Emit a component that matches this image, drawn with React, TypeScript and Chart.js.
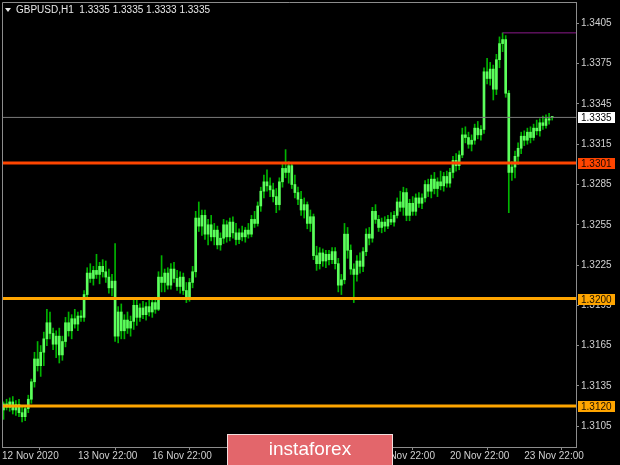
import React, { useEffect, useRef } from 'react';
import { Chart, registerables } from 'chart.js';

Chart.register(...registerables);

// ---- Data (GBPUSD H1) ----
const opens = [
  1.3117, 1.31215, 1.3119, 1.3123, 1.3117, 1.3121, 1.3115, 1.3112, 1.3118, 1.3125,
  1.3138, 1.3155, 1.3150, 1.3160, 1.3170, 1.3182, 1.3174, 1.3166, 1.3172, 1.3158,
  1.3168, 1.3182, 1.3176, 1.3185, 1.3181, 1.3187, 1.3186, 1.3203, 1.3219, 1.3215,
  1.3221, 1.3218, 1.3224, 1.3220, 1.3216, 1.3208, 1.3213, 1.3172, 1.3190, 1.3176,
  1.3184, 1.3178, 1.3183, 1.3195, 1.3186, 1.3193, 1.3188, 1.3194, 1.3190, 1.3197,
  1.3192, 1.3216, 1.3212, 1.3219, 1.3210, 1.3222, 1.3215, 1.3209, 1.3216, 1.3206,
  1.3201, 1.3212, 1.3220, 1.3260, 1.3254, 1.3262, 1.3248, 1.3255, 1.3246, 1.3251,
  1.3240, 1.3245, 1.3255, 1.3246, 1.3257, 1.3249, 1.3244, 1.3249, 1.3246, 1.3251,
  1.3248, 1.3259, 1.3256, 1.3269, 1.3280, 1.3287, 1.3284, 1.3281, 1.3276, 1.3270,
  1.3287, 1.3297, 1.3294, 1.3299, 1.3285, 1.3279, 1.3274, 1.3266, 1.3270, 1.3256,
  1.3261, 1.3232, 1.3226, 1.3234, 1.3228, 1.3233, 1.3229, 1.3235, 1.3226, 1.3210,
  1.3214, 1.3248, 1.3236, 1.3222, 1.3218, 1.3228, 1.3224, 1.3235, 1.3248, 1.3245,
  1.3265, 1.3259, 1.3253, 1.3257, 1.3254, 1.3259, 1.3257, 1.3262, 1.3272, 1.3268,
  1.3279, 1.3262, 1.3271, 1.3265, 1.3275, 1.3271, 1.3275, 1.3285, 1.3280, 1.3289,
  1.3282, 1.3287, 1.3284, 1.3291, 1.3286, 1.3294, 1.3303, 1.3299, 1.3307, 1.3322,
  1.3320, 1.3315, 1.3318, 1.3327, 1.3322, 1.3326, 1.3369, 1.3364, 1.3371, 1.3356,
  1.3378, 1.3390, 1.3393, 1.3353, 1.3294, 1.3298, 1.3306, 1.3312, 1.3321, 1.3318,
  1.3324, 1.3320, 1.3327, 1.3325, 1.3331, 1.3329, 1.3334, 1.3335,
];
const highs = [
  1.3123, 1.3125, 1.3126, 1.3127, 1.3124, 1.3125, 1.3119, 1.3120, 1.3128, 1.3140,
  1.3160, 1.3168, 1.3165, 1.3175, 1.3192, 1.3190, 1.3178, 1.3176, 1.3178, 1.3172,
  1.3186, 1.3190, 1.3188, 1.3192, 1.3190, 1.3191, 1.3206, 1.3223, 1.3226, 1.3224,
  1.3233, 1.3227, 1.3229, 1.3228, 1.3222, 1.3218, 1.3241, 1.3194, 1.3196, 1.3188,
  1.3190, 1.3187, 1.3199, 1.3199, 1.3196, 1.3198, 1.3197, 1.3199, 1.3199, 1.3201,
  1.3220, 1.3232, 1.3222, 1.3223, 1.3226, 1.3227, 1.3221, 1.3220, 1.3219, 1.3212,
  1.3215, 1.3224, 1.3265, 1.3272, 1.3266, 1.3266, 1.3259, 1.3262, 1.3256, 1.3254,
  1.3249, 1.3259, 1.3258, 1.3260, 1.3261, 1.3256, 1.3252, 1.3254, 1.3253, 1.3256,
  1.3262, 1.3265, 1.3272, 1.3283, 1.3292, 1.3296, 1.3290, 1.3286, 1.3282, 1.3290,
  1.3300, 1.3311, 1.3302, 1.3301, 1.3292, 1.3283, 1.3280, 1.3275, 1.3272, 1.3266,
  1.3263, 1.3239, 1.3238, 1.3237, 1.3236, 1.3236, 1.3238, 1.3238, 1.3230, 1.3218,
  1.3256, 1.3253, 1.3240, 1.3226, 1.3232, 1.3234, 1.3238, 1.3252, 1.3253, 1.3268,
  1.3270, 1.3262, 1.3260, 1.3261, 1.3262, 1.3264, 1.3265, 1.3275, 1.3280, 1.3283,
  1.3282, 1.3274, 1.3276, 1.3278, 1.3279, 1.3278, 1.3288, 1.3289, 1.3292, 1.3294,
  1.3290, 1.3295, 1.3294, 1.3295, 1.3297, 1.3306, 1.3308, 1.3310, 1.3327, 1.3328,
  1.3324, 1.3322, 1.3330, 1.3332, 1.3329, 1.3372, 1.3379, 1.3376, 1.3374, 1.3382,
  1.3395, 1.3398, 1.3396, 1.3355, 1.3302, 1.3310, 1.3316, 1.3324, 1.3325, 1.3327,
  1.3328, 1.3330, 1.3333, 1.3334, 1.3336, 1.3337, 1.3338, 1.3335,
];
const lows = [
  1.3110, 1.3117, 1.3116, 1.3114, 1.3113, 1.3112, 1.3108, 1.3109, 1.3115, 1.3122,
  1.3134, 1.3146, 1.3142, 1.3150, 1.3165, 1.3170, 1.3162, 1.3156, 1.3152, 1.3154,
  1.3164, 1.3172, 1.3170, 1.3178, 1.3176, 1.3183, 1.3183, 1.3200, 1.3212, 1.3210,
  1.3215, 1.3211, 1.3216, 1.3212, 1.3204, 1.3202, 1.3168, 1.3167, 1.3170, 1.3170,
  1.3174, 1.3172, 1.3177, 1.3180, 1.3183, 1.3185, 1.3184, 1.3187, 1.3186, 1.3189,
  1.3191, 1.3205, 1.3205, 1.3207, 1.3207, 1.3212, 1.3206, 1.3204, 1.3203, 1.3197,
  1.3198, 1.3208, 1.3216, 1.3250, 1.3247, 1.3244, 1.3240, 1.3243, 1.3240, 1.3237,
  1.3236, 1.3241, 1.3242, 1.3243, 1.3245, 1.3240, 1.3241, 1.3243, 1.3242, 1.3245,
  1.3246, 1.3253, 1.3254, 1.3265, 1.3275, 1.3280, 1.3276, 1.3272, 1.3264, 1.3266,
  1.3283, 1.3290, 1.3286, 1.3282, 1.3275, 1.3270, 1.3262, 1.3260, 1.3252, 1.3250,
  1.3229, 1.3221, 1.3222, 1.3224, 1.3223, 1.3225, 1.3226, 1.3222, 1.3205, 1.3203,
  1.3211, 1.3230, 1.3218, 1.3197, 1.3213, 1.3219, 1.3220, 1.3232, 1.3240, 1.3242,
  1.3256, 1.3250, 1.3249, 1.3250, 1.3252, 1.3255, 1.3254, 1.3260, 1.3265, 1.3262,
  1.3258, 1.3258, 1.3262, 1.3262, 1.3268, 1.3267, 1.3272, 1.3276, 1.3275, 1.3278,
  1.3276, 1.3281, 1.3280, 1.3283, 1.3283, 1.3290, 1.3295, 1.3296, 1.3305, 1.3316,
  1.3312, 1.3310, 1.3315, 1.3319, 1.3318, 1.3323, 1.3360, 1.3359, 1.3348, 1.3352,
  1.3372, 1.3384, 1.3350, 1.3264, 1.3288, 1.3290, 1.3300, 1.3308, 1.3314, 1.3315,
  1.3316, 1.3318, 1.3322, 1.3321, 1.3326, 1.3327, 1.3330, 1.3333,
];
const closes = [
  1.31215, 1.3119, 1.3123, 1.3117, 1.3121, 1.3115, 1.3112, 1.3118, 1.3125, 1.3138,
  1.3155, 1.3150, 1.3160, 1.3170, 1.3182, 1.3174, 1.3166, 1.3172, 1.3158, 1.3168,
  1.3182, 1.3176, 1.3185, 1.3181, 1.3187, 1.3186, 1.3203, 1.3219, 1.3215, 1.3221,
  1.3218, 1.3224, 1.3220, 1.3216, 1.3208, 1.3213, 1.3172, 1.3190, 1.3176, 1.3184,
  1.3178, 1.3183, 1.3195, 1.3186, 1.3193, 1.3188, 1.3194, 1.3190, 1.3197, 1.3192,
  1.3216, 1.3212, 1.3219, 1.3210, 1.3222, 1.3215, 1.3209, 1.3216, 1.3206, 1.3201,
  1.3212, 1.3220, 1.3260, 1.3254, 1.3262, 1.3248, 1.3255, 1.3246, 1.3251, 1.3240,
  1.3245, 1.3255, 1.3246, 1.3257, 1.3249, 1.3244, 1.3249, 1.3246, 1.3251, 1.3248,
  1.3259, 1.3256, 1.3269, 1.3280, 1.3287, 1.3284, 1.3281, 1.3276, 1.3270, 1.3287,
  1.3297, 1.3294, 1.3299, 1.3285, 1.3279, 1.3274, 1.3266, 1.3270, 1.3256, 1.3261,
  1.3232, 1.3226, 1.3234, 1.3228, 1.3233, 1.3229, 1.3235, 1.3226, 1.3210, 1.3214,
  1.3248, 1.3236, 1.3222, 1.3218, 1.3228, 1.3224, 1.3235, 1.3248, 1.3245, 1.3265,
  1.3259, 1.3253, 1.3257, 1.3254, 1.3259, 1.3257, 1.3262, 1.3272, 1.3268, 1.3279,
  1.3262, 1.3271, 1.3265, 1.3275, 1.3271, 1.3275, 1.3285, 1.3280, 1.3289, 1.3282,
  1.3287, 1.3284, 1.3291, 1.3286, 1.3294, 1.3303, 1.3299, 1.3307, 1.3322, 1.3320,
  1.3315, 1.3318, 1.3327, 1.3322, 1.3326, 1.3369, 1.3364, 1.3371, 1.3356, 1.3378,
  1.3390, 1.3393, 1.3353, 1.3294, 1.3298, 1.3306, 1.3312, 1.3321, 1.3318, 1.3324,
  1.3320, 1.3327, 1.3325, 1.3331, 1.3329, 1.3334, 1.3333, 1.3335,
];

const xMin = -0.48;
const xMax = 184.68;
const xTickValues = [-0.48, 24, 48, 72, 96, 120, 144, 168];
const xTickLabels = [
  '12 Nov 2020', '13 Nov 22:00', '16 Nov 22:00', '17 Nov 22:00',
  '18 Nov 22:00', '19 Nov 22:00', '20 Nov 22:00', '23 Nov 22:00',
];
const yMin = 1.30894;
const yMax = 1.3421;
const yTickValues = [1.3105, 1.3135, 1.3165, 1.3195, 1.3225, 1.3255, 1.3285, 1.3315, 1.3345, 1.3375, 1.3405];

const redLevel = 1.3301;
const orangeLevels = [1.32, 1.312];
const bidLevel = 1.3335;
const highLevel = 1.3398;
const highStartIndex = 161;
const titleText = 'GBPUSD,H1  1.3335 1.3335 1.3333 1.3335';
const watermarkText = 'instaforex';

const FONT = '"Liberation Sans", "DejaVu Sans", Arial, sans-serif';

const overlayPlugin = {
  id: 'overlay',
  beforeDraw(chart: any) {
    const { ctx, width, height } = chart;
    ctx.save();
    ctx.fillStyle = '#000000';
    ctx.fillRect(0, 0, width, height);
    ctx.restore();
  },
  afterDraw(chart: any) {
    const { ctx, chartArea: a, scales } = chart;
    const y = scales.y;
    ctx.save();
    // frame (left + top)
    ctx.strokeStyle = '#8c8c8c';
    ctx.lineWidth = 1;
    ctx.beginPath();
    ctx.moveTo(a.left + 0.5, a.bottom);
    ctx.lineTo(a.left + 0.5, a.top + 0.5);
    ctx.lineTo(a.right, a.top + 0.5);
    ctx.stroke();

    // price tags
    const tag = (v: number, bg: string, fg: string) => {
      const py = Math.round(y.getPixelForValue(v));
      ctx.fillStyle = bg;
      ctx.fillRect(a.right + 2, py - 5, 37, 11);
      ctx.fillStyle = fg;
      ctx.font = '10px ' + FONT;
      ctx.textAlign = 'left';
      ctx.textBaseline = 'middle';
      ctx.fillText(v.toFixed(4), a.right + 5, py + 1);
    };
    tag(bidLevel, '#ffffff', '#000000');
    tag(redLevel, '#ff4500', '#1a0a00');
    orangeLevels.forEach((v) => tag(v, '#ffa500', '#1a1000'));

    // title
    ctx.fillStyle = '#e8e8e8';
    ctx.beginPath();
    ctx.moveTo(5, 8);
    ctx.lineTo(11, 8);
    ctx.lineTo(8, 12);
    ctx.closePath();
    ctx.fill();
    ctx.font = '10px ' + FONT;
    ctx.textAlign = 'left';
    ctx.textBaseline = 'middle';
    ctx.fillText(titleText, 16, 10);

    // watermark
    ctx.fillStyle = '#e3666b';
    ctx.fillRect(227, 434, 166, 34);
    ctx.strokeStyle = '#f2dede';
    ctx.lineWidth = 1;
    ctx.strokeRect(227.5, 434.5, 165, 34);
    ctx.fillStyle = '#ffffff';
    ctx.font = '19px ' + FONT;
    ctx.textAlign = 'center';
    ctx.textBaseline = 'middle';
    ctx.fillText(watermarkText, 310, 450);
    ctx.restore();
  },
};

export default function App() {
  const canvasRef = useRef<HTMLCanvasElement | null>(null);

  useEffect(() => {
    document.body.style.margin = '0';
    document.body.style.background = '#000';
    const canvas = canvasRef.current;
    if (!canvas) return;

    const wicks = highs.map((h, i) => ({ x: i, y: [lows[i], h] }));
    const bodies = opens.map((o, i) => ({ x: i, y: [Math.min(o, closes[i]), Math.max(o, closes[i])] }));
    const hline = (v: number, from: number) => [{ x: from, y: v }, { x: xMax, y: v }];

    const chart = new Chart(canvas, {
      type: 'bar',
      data: {
        datasets: [
          {
            type: 'line',
            data: hline(redLevel, xMin),
            borderColor: '#ff4500',
            borderWidth: 3,
            pointRadius: 0,
            order: 0,
          } as any,
          ...orangeLevels.map((v) => ({
            type: 'line',
            data: hline(v, xMin),
            borderColor: '#ffa500',
            borderWidth: 3,
            pointRadius: 0,
            order: 0,
          })) as any,
          {
            type: 'line',
            data: hline(bidLevel, xMin),
            borderColor: '#7a7a7a',
            borderWidth: 1,
            pointRadius: 0,
            order: 0,
          } as any,
          {
            type: 'line',
            data: hline(highLevel, highStartIndex),
            borderColor: '#8b1a8b',
            borderWidth: 1,
            pointRadius: 0,
            order: 0,
          } as any,
          {
            type: 'bar',
            data: bodies as any,
            backgroundColor: '#5cff5c',
            borderWidth: 0,
            barThickness: 2,
            minBarLength: 1,
            grouped: false,
            order: 1,
          } as any,
          {
            type: 'bar',
            data: wicks as any,
            backgroundColor: '#00b400',
            borderWidth: 0,
            barThickness: 1,
            grouped: false,
            order: 2,
          } as any,
        ],
      },
      options: {
        responsive: false,
        maintainAspectRatio: false,
        animation: false,
        events: [],
        layout: { padding: { left: 2, top: 2, right: 0, bottom: 0 } },
        plugins: { legend: { display: false }, tooltip: { enabled: false }, title: { display: false } },
        scales: {
          x: {
            type: 'linear',
            min: xMin,
            max: xMax,
            offset: false,
            grid: { display: true, drawOnChartArea: false, drawTicks: true, tickLength: 3, color: '#8c8c8c' },
            border: { display: true, color: '#8c8c8c' },
            ticks: {
              autoSkip: false,
              maxRotation: 0,
              minRotation: 0,
              align: 'start',
              padding: 0,
              color: '#d0d0d0',
              font: { family: FONT, size: 10 },
              callback: (_v: any, idx: number) => xTickLabels[idx],
            },
            afterBuildTicks: (scale: any) => {
              scale.ticks = xTickValues.map((v) => ({ value: v }));
            },
            afterFit: (scale: any) => {
              scale.height = 18;
              scale.paddingLeft = 0;
              scale.paddingRight = 0;
            },
          } as any,
          y: {
            type: 'linear',
            position: 'right',
            min: yMin,
            max: yMax,
            grid: { display: true, drawOnChartArea: false, drawTicks: true, tickLength: 3, color: '#8c8c8c' },
            border: { display: true, color: '#8c8c8c' },
            ticks: {
              padding: 2,
              color: '#d0d0d0',
              font: { family: FONT, size: 10 },
              callback: (v: any) => Number(v).toFixed(4),
            },
            afterBuildTicks: (scale: any) => {
              scale.ticks = yTickValues.map((v) => ({ value: v }));
            },
            afterFit: (scale: any) => {
              scale.width = 44;
              scale.paddingTop = 0;
              scale.paddingBottom = 0;
            },
          } as any,
        },
      } as any,
      plugins: [overlayPlugin],
    });

    return () => chart.destroy();
  }, []);

  return (
    <div style={{ position: 'fixed', left: 0, top: 0, width: 620, height: 465, background: '#000' }}>
      <canvas ref={canvasRef} width={620} height={465} />
    </div>
  );
}
